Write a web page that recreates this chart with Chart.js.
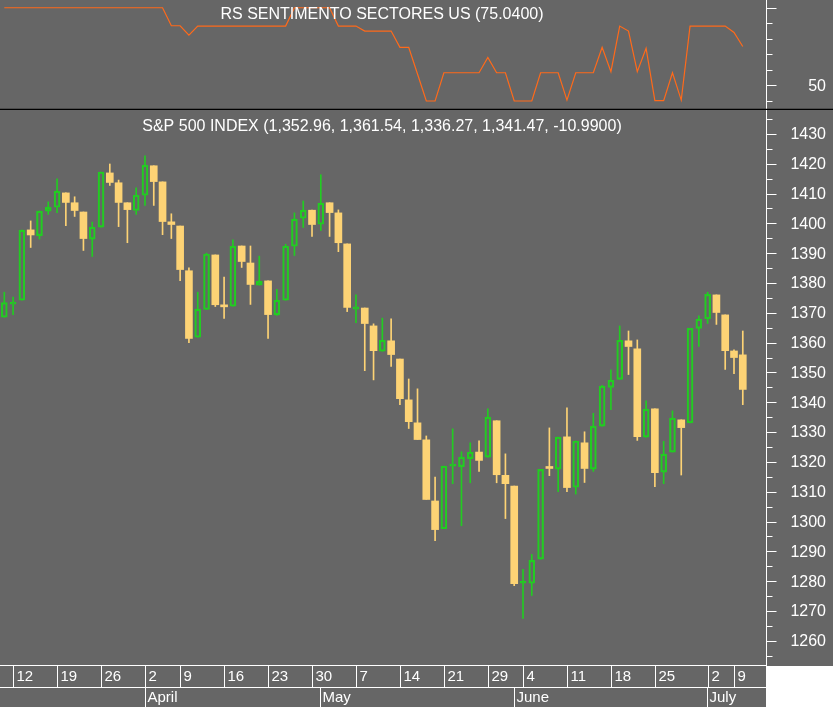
<!DOCTYPE html>
<html><head><meta charset="utf-8">
<script src="https://cdn.jsdelivr.net/npm/chart.js@4"></script>
<style>
html,body{margin:0;padding:0;background:#666666;width:833px;height:707px;overflow:hidden}
#top{position:absolute;left:0;top:0;width:833px;height:110px}
#bot{position:absolute;left:0;top:110px;width:833px;height:597px}
</style></head><body>
<div id="top"><canvas id="c1"></canvas></div>
<div id="bot"><canvas id="c2"></canvas></div>
<script>
const opens=[1368.5,1372.9,1374.2,1397.8,1395.9,1404.1,1405.4,1410.2,1406.9,1403.8,
1394.7,1398.7,1416.9,1413.6,1406.9,1404.3,1409.4,1419.3,1413.9,1400.5,
1399.1,1384.1,1361.8,1371.1,1389.4,1372.4,1372.2,1392.4,1386.7,1379.3,
1380.7,1369.3,1374.2,1392.3,1401.7,1404.4,1399.7,1406.9,1403.5,1393.1,
1371.2,1371.6,1365.6,1357.1,1360.6,1354.5,1340.8,1333.1,1327.4,1306.9,
1297.6,1318.6,1318.4,1321.1,1323.3,1321.6,1333.8,1315.5,1311.9,1279.3,
1279.3,1287.4,1318.2,1317.6,1328.4,1311.5,1326.4,1317.6,1332.0,1345.0,
1347.7,1360.6,1357.9,1328.3,1337.8,1316.6,1323.3,1334.1,1333.1,1364.8,
1368.0,1376.0,1369.3,1357.2,1355.9];
const highs=[1376.9,1375.3,1397.7,1400.8,1404.1,1407.2,1414.9,1410.2,1408.9,1403.8,
1400.4,1417.2,1419.9,1414.5,1406.9,1411.9,1422.6,1419.3,1413.9,1403.2,
1399.1,1385.1,1376.9,1390.0,1389.4,1382.0,1394.5,1392.4,1392.4,1389.0,
1380.7,1377.9,1393.0,1403.5,1407.5,1404.4,1416.3,1406.9,1404.5,1393.1,
1376.0,1371.6,1366.3,1368.2,1368.0,1354.5,1347.8,1344.5,1328.7,1314.9,
1318.6,1331.1,1323.4,1326.4,1327.1,1337.8,1333.8,1322.7,1311.9,1284.0,
1289.0,1317.5,1331.4,1328.3,1338.1,1327.0,1330.1,1336.3,1345.7,1350.9,
1365.6,1363.9,1360.9,1340.5,1337.8,1326.9,1337.1,1334.1,1364.8,1369.0,
1376.9,1376.0,1369.3,1357.6,1363.9];
const lows=[1368.5,1369.4,1374.2,1391.9,1394.7,1403.0,1403.6,1399.2,1402.3,1390.9,
1388.9,1398.7,1412.7,1398.9,1393.5,1403.0,1406.0,1406.0,1396.2,1394.9,
1380.8,1360.0,1361.8,1371.1,1372.1,1368.1,1372.2,1385.2,1372.8,1379.3,
1361.4,1369.1,1374.2,1389.2,1398.6,1395.6,1397.6,1395.6,1390.5,1370.4,
1366.7,1350.6,1347.5,1357.1,1352.0,1339.2,1331.2,1327.5,1307.4,1293.6,
1297.6,1312.7,1298.6,1313.0,1316.8,1321.6,1313.0,1301.0,1278.5,1267.5,
1275.2,1287.4,1315.4,1310.0,1310.0,1309.2,1313.1,1316.8,1332.0,1337.5,
1347.7,1349.3,1327.2,1328.3,1311.7,1312.7,1323.3,1315.6,1333.1,1358.7,
1366.4,1366.1,1351.0,1349.6,1339.2];
const closes=[1373.4,1373.4,1397.7,1396.1,1404.1,1405.4,1410.8,1407.0,1404.3,1394.9,
1398.7,1417.2,1413.7,1407.0,1404.6,1409.4,1419.5,1414.0,1400.6,1399.6,
1384.5,1361.4,1371.2,1389.7,1372.7,1372.0,1392.3,1387.2,1379.5,1380.6,
1369.4,1374.2,1392.3,1401.4,1404.4,1399.6,1406.8,1403.6,1393.5,1371.8,
1372.0,1366.4,1357.3,1360.8,1356.0,1341.2,1333.5,1327.5,1307.4,1297.3,
1318.6,1319.3,1321.6,1323.3,1320.5,1335.0,1315.7,1312.7,1279.2,1279.5,
1287.0,1317.5,1317.8,1328.3,1311.4,1327.0,1317.8,1332.0,1345.4,1347.4,
1360.8,1358.7,1328.5,1337.7,1316.4,1322.6,1334.7,1331.5,1364.8,1367.9,
1376.2,1370.1,1357.3,1355.0,1344.3];
const rs=[100,100,100,100,100,100,100,100,100,100,100,100,100,100,100,100,100,100,100,
88.4,88.4,82.4,88.2,88.2,88.2,88.2,88.2,88.2,88.2,88.2,88.2,88.2,88.2,
100,100,100,100,100,88.2,88.2,88.2,85.0,85.0,85.0,85.0,74.5,74.5,57.3,39.9,39.9,
58.1,58.1,58.1,58.1,58.1,68.0,58.1,58.1,39.9,39.9,39.9,58.1,58.1,58.1,40.5,
58.1,58.1,58.1,74.5,58.8,88.2,85.0,58.8,73.8,40.1,40.1,58.1,40.5,
88.2,88.2,88.2,88.2,88.2,84.1,75.04];
const dayLabels=["12","19","26","2","9","16","23","30","7","14","21","29","4","11","18","25","2","9"];
const dayIdx=[1,6,11,16,20,25,30,35,40,45,50,55,59,64,69,74,80,83];
const monthLabels=["April","May","June","July"];
const monthIdx=[16,36,58,80];
const priceTicks=[1260,1270,1280,1290,1300,1310,1320,1330,1340,1350,1360,1370,1380,1390,1400,1410,1420,1430];
const rsTicks=[50];
const topTitle="RS SENTIMENTO SECTORES US (75.0400)";
const botTitle="S&P 500 INDEX (1,352.96, 1,361.54, 1,336.27, 1,341.47, -10.9900)";

const GREEN="#22cc22", YEL="#fdd375", BG="#666666", FONT="16px 'Liberation Sans', Arial, sans-serif";
const XMIN=-0.49, XMAX=86.64;
const up=opens.map((o,i)=>closes[i]>=o);
const idx=opens.map((_,i)=>i);

function rightAxis(chart,ticks,minor,labels,longSet){
  const ctx=chart.ctx, s=chart.scales.y, ax=chart.chartArea.right+0.5;
  ctx.save();ctx.strokeStyle="#fff";ctx.lineWidth=1;
  ctx.beginPath();ctx.moveTo(ax,0);ctx.lineTo(ax,chart.chartArea.bottom);ctx.stroke();
  minor.forEach(v=>{const y=Math.round(s.getPixelForValue(v))+0.5;
    const L=longSet(v)?10:6;ctx.beginPath();ctx.moveTo(ax,y);ctx.lineTo(ax+L,y);ctx.stroke();});
  ctx.fillStyle="#fff";ctx.font=FONT;ctx.textAlign="right";ctx.textBaseline="middle";
  labels.forEach(v=>ctx.fillText(String(v),826,s.getPixelForValue(v)+1));
  ctx.restore();
}

const topPlugin={id:"tp",afterDraw(chart){
  const ctx=chart.ctx;
  const mn=[];for(let v=40;v<=100;v+=10)mn.push(v);
  rightAxis(chart,null,mn,rsTicks,v=>v%50===0);
  ctx.save();ctx.fillStyle="#fff";ctx.font=FONT;ctx.textAlign="center";ctx.textBaseline="middle";
  ctx.fillText(topTitle,382,15);
  ctx.strokeStyle="#000";ctx.lineWidth=1.5;ctx.beginPath();ctx.moveTo(0,109.5);ctx.lineTo(833,109.5);ctx.stroke();
  ctx.restore();
}};

new Chart(document.getElementById("c1"),{
  type:"line",
  data:{datasets:[{data:idx.map(i=>({x:i,y:rs[i]})),borderColor:"#ff6a1a",borderWidth:1.2,pointRadius:0,tension:0}]},
  options:{responsive:true,maintainAspectRatio:false,animation:false,
    layout:{padding:0},
    plugins:{legend:{display:false},tooltip:{enabled:false}},
    scales:{x:{type:"linear",min:XMIN,max:XMAX,display:false},
      y:{position:"right",min:34.1,max:105,ticks:{display:false},grid:{display:false},border:{display:false},
        afterFit:s=>{s.width=67;}}}},
  plugins:[topPlugin]
});

const botPlugin={id:"bp",afterDraw(chart){
  const ctx=chart.ctx, xs=chart.scales.x, ca=chart.chartArea;
  const mn=[];for(let v=1255;v<=1435;v+=5)mn.push(v);
  rightAxis(chart,null,mn,priceTicks,v=>v%10===0);
  ctx.save();
  ctx.fillStyle="#fff";ctx.font=FONT;ctx.textAlign="center";ctx.textBaseline="middle";
  ctx.fillText(botTitle,382,17);
  // date rows
  const r1=ca.bottom, r2=r1+22, r3=597, R=ca.right;
  ctx.fillStyle="#fff";ctx.fillRect(R+1,r1+1,833-R,r3-r1);
  ctx.strokeStyle="#fff";ctx.lineWidth=1;
  ctx.beginPath();ctx.moveTo(0,r1+0.5);ctx.lineTo(R,r1+0.5);ctx.moveTo(0,r2+0.5);ctx.lineTo(R,r2+0.5);ctx.stroke();
  ctx.font="15px 'Liberation Sans', Arial, sans-serif";ctx.textAlign="left";ctx.textBaseline="middle";ctx.fillStyle="#fff";
  dayIdx.forEach((d,k)=>{const x=Math.round(xs.getPixelForValue(d))+0.5;
    ctx.beginPath();ctx.moveTo(x,r1);ctx.lineTo(x,r2);ctx.stroke();
    ctx.fillText(dayLabels[k],x+3,r1+12);});
  monthIdx.forEach((d,k)=>{const x=Math.round(xs.getPixelForValue(d-0.5)+4)+0.5;
    ctx.beginPath();ctx.moveTo(x,r2);ctx.lineTo(x,r3);ctx.stroke();
    ctx.fillText(monthLabels[k],x+2,r2+11);});
  ctx.beginPath();ctx.moveTo(R+0.5,r1);ctx.lineTo(R+0.5,r3);ctx.stroke();
  ctx.restore();
}};

const wickColor=c=>up[c.dataIndex]?GREEN:YEL;
new Chart(document.getElementById("c2"),{
  type:"bar",
  data:{datasets:[
    {data:idx.map(i=>({x:i,y:[Math.max(opens[i],closes[i]),highs[i]]})),backgroundColor:wickColor,barThickness:1,grouped:false},
    {data:idx.map(i=>({x:i,y:[lows[i],Math.min(opens[i],closes[i])]})),backgroundColor:wickColor,barThickness:1,grouped:false},
    {data:idx.filter(i=>!up[i]).map(i=>({x:i,y:[opens[i],closes[i]]})),backgroundColor:YEL,barThickness:7,minBarLength:2,grouped:false},
    {data:idx.filter(i=>up[i]).map(i=>({x:i,y:[opens[i],closes[i]]})),backgroundColor:"rgba(0,0,0,0)",borderColor:GREEN,borderWidth:1.5,borderSkipped:false,barThickness:6,minBarLength:2,grouped:false}
  ]},
  options:{responsive:true,maintainAspectRatio:false,animation:false,
    layout:{padding:{top:0,bottom:42,left:0,right:0}},
    plugins:{legend:{display:false},tooltip:{enabled:false}},
    scales:{x:{type:"linear",min:XMIN,max:XMAX,display:false,offset:false},
      y:{position:"right",min:1251.9,max:1438,ticks:{display:false},grid:{display:false},border:{display:false},
        afterFit:s=>{s.width=67;}}}},
  plugins:[botPlugin]
});
</script></body></html>
